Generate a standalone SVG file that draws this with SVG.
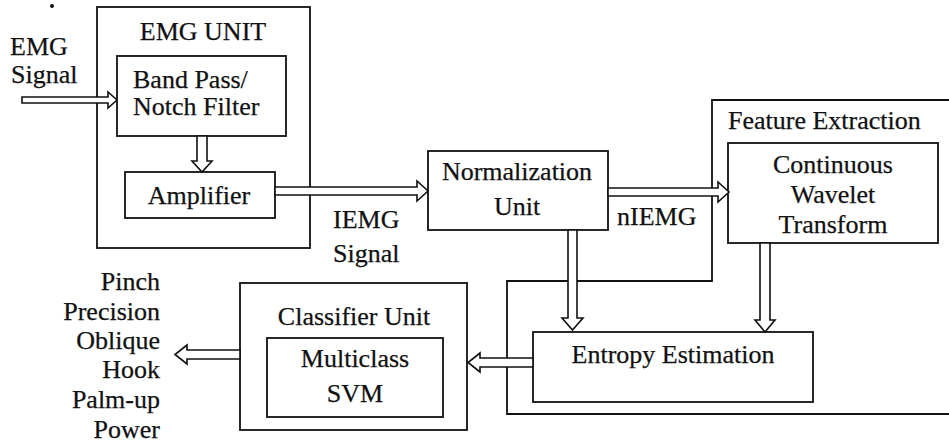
<svg xmlns="http://www.w3.org/2000/svg" width="949" height="448" viewBox="0 0 949 448" font-family="'Liberation Serif', Tinos, 'Times New Roman', 'DejaVu Serif', serif">
  <style>
    .box { fill: none; stroke: #111; stroke-width: 1.8; }
    .arrow { fill: #fff; stroke: #111; stroke-width: 1.6; stroke-linejoin: miter; }
    text { font-family: 'Liberation Serif', Tinos, 'Times New Roman', 'DejaVu Serif', serif; font-size: 26px; fill: #111; stroke: #111; stroke-width: 0.25; }
    .c { text-anchor: middle; }
    .r { text-anchor: end; }
  </style>
  <rect width="949" height="448" fill="#fff"/>

  <!-- stray mark near the top-left -->
  <circle cx="52" cy="6" r="2" fill="#111"/>

  <!-- input label -->
  <g id="emg-signal">
    <text x="10" y="55">EMG</text>
    <text x="11" y="83">Signal</text>
  </g>

  <!-- EMG unit with filter and amplifier -->
  <g id="emg-unit">
    <rect class="box" x="97" y="7" width="213" height="241"/>
    <text class="c" x="203" y="40">EMG UNIT</text>
  </g>
  <g id="band-pass">
    <rect class="box" x="117" y="56" width="169" height="80"/>
    <text x="133" y="88">Band Pass/</text>
    <text x="133" y="115">Notch Filter</text>
  </g>
  <g id="amplifier">
    <rect class="box" x="125" y="172" width="150" height="46"/>
    <text class="c" x="199" y="204">Amplifier</text>
  </g>

  <g id="iemg-label">
    <text x="333" y="228">IEMG</text>
    <text x="333" y="262">Signal</text>
  </g>

  <g id="normalization">
    <rect class="box" x="428" y="151" width="180" height="79"/>
    <text class="c" x="517" y="180">Normalization</text>
    <text class="c" x="517" y="215">Unit</text>
  </g>

  <g id="niemg-label">
    <text x="617" y="225">nIEMG</text>
  </g>

  <!-- feature extraction enclosure (continues past the right edge) -->
  <g id="feature-extraction">
    <path class="box" d="M 955 100 L 712 100 L 712 281 L 507 281 L 507 414 L 955 414"/>
    <text x="728" y="129">Feature Extraction</text>
  </g>
  <g id="cwt">
    <rect class="box" x="728" y="143" width="210" height="100"/>
    <text class="c" x="833" y="173">Continuous</text>
    <text class="c" x="833" y="203">Wavelet</text>
    <text class="c" x="833" y="233">Transform</text>
  </g>
  <g id="entropy">
    <rect class="box" x="533" y="332" width="280" height="70"/>
    <text class="c" x="673" y="363">Entropy Estimation</text>
  </g>

  <g id="classifier-unit">
    <rect class="box" x="240" y="283" width="227" height="147"/>
    <text class="c" x="354" y="325">Classifier Unit</text>
  </g>
  <g id="svm">
    <rect class="box" x="267" y="338" width="176" height="79"/>
    <text class="c" x="355" y="367">Multiclass</text>
    <text class="c" x="355" y="402">SVM</text>
  </g>

  <g id="grasp-classes">
    <text class="r" x="160" y="290">Pinch</text>
    <text class="r" x="160" y="320">Precision</text>
    <text class="r" x="160" y="349">Oblique</text>
    <text class="r" x="160" y="378">Hook</text>
    <text class="r" x="160" y="408">Palm-up</text>
    <text class="r" x="160" y="438">Power</text>
  </g>

  <!-- hollow block arrows -->
  <g id="connectors">
    <!-- EMG signal -> band pass -->
    <polygon class="arrow" points="22,97 108,97 108,92 117,100 108,108 108,103 22,103"/>
    <!-- band pass -> amplifier -->
    <polygon class="arrow" points="197,136 207,136 207,161 212,161 202,172 192,161 197,161"/>
    <!-- amplifier -> normalization -->
    <polygon class="arrow" points="275,187 417,187 417,181 428,191 417,201 417,195 275,195"/>
    <!-- normalization -> CWT -->
    <polygon class="arrow" points="608,188 718,188 718,182 729,192 718,202 718,196 608,196"/>
    <!-- normalization -> entropy -->
    <polygon class="arrow" points="568,230 577,230 577,318 583,318 572.5,330 562,318 568,318"/>
    <!-- CWT -> entropy -->
    <polygon class="arrow" points="760,243 770,243 770,320 775,320 765,332 755,320 760,320"/>
    <!-- entropy -> classifier -->
    <polygon class="arrow" points="533,358 480,358 480,353 468,362.5 480,372 480,367 533,367"/>
    <!-- classifier -> grasp classes -->
    <polygon class="arrow" points="240,350 187,350 187,345 175,354.5 187,364 187,359 240,359"/>
  </g>
</svg>
